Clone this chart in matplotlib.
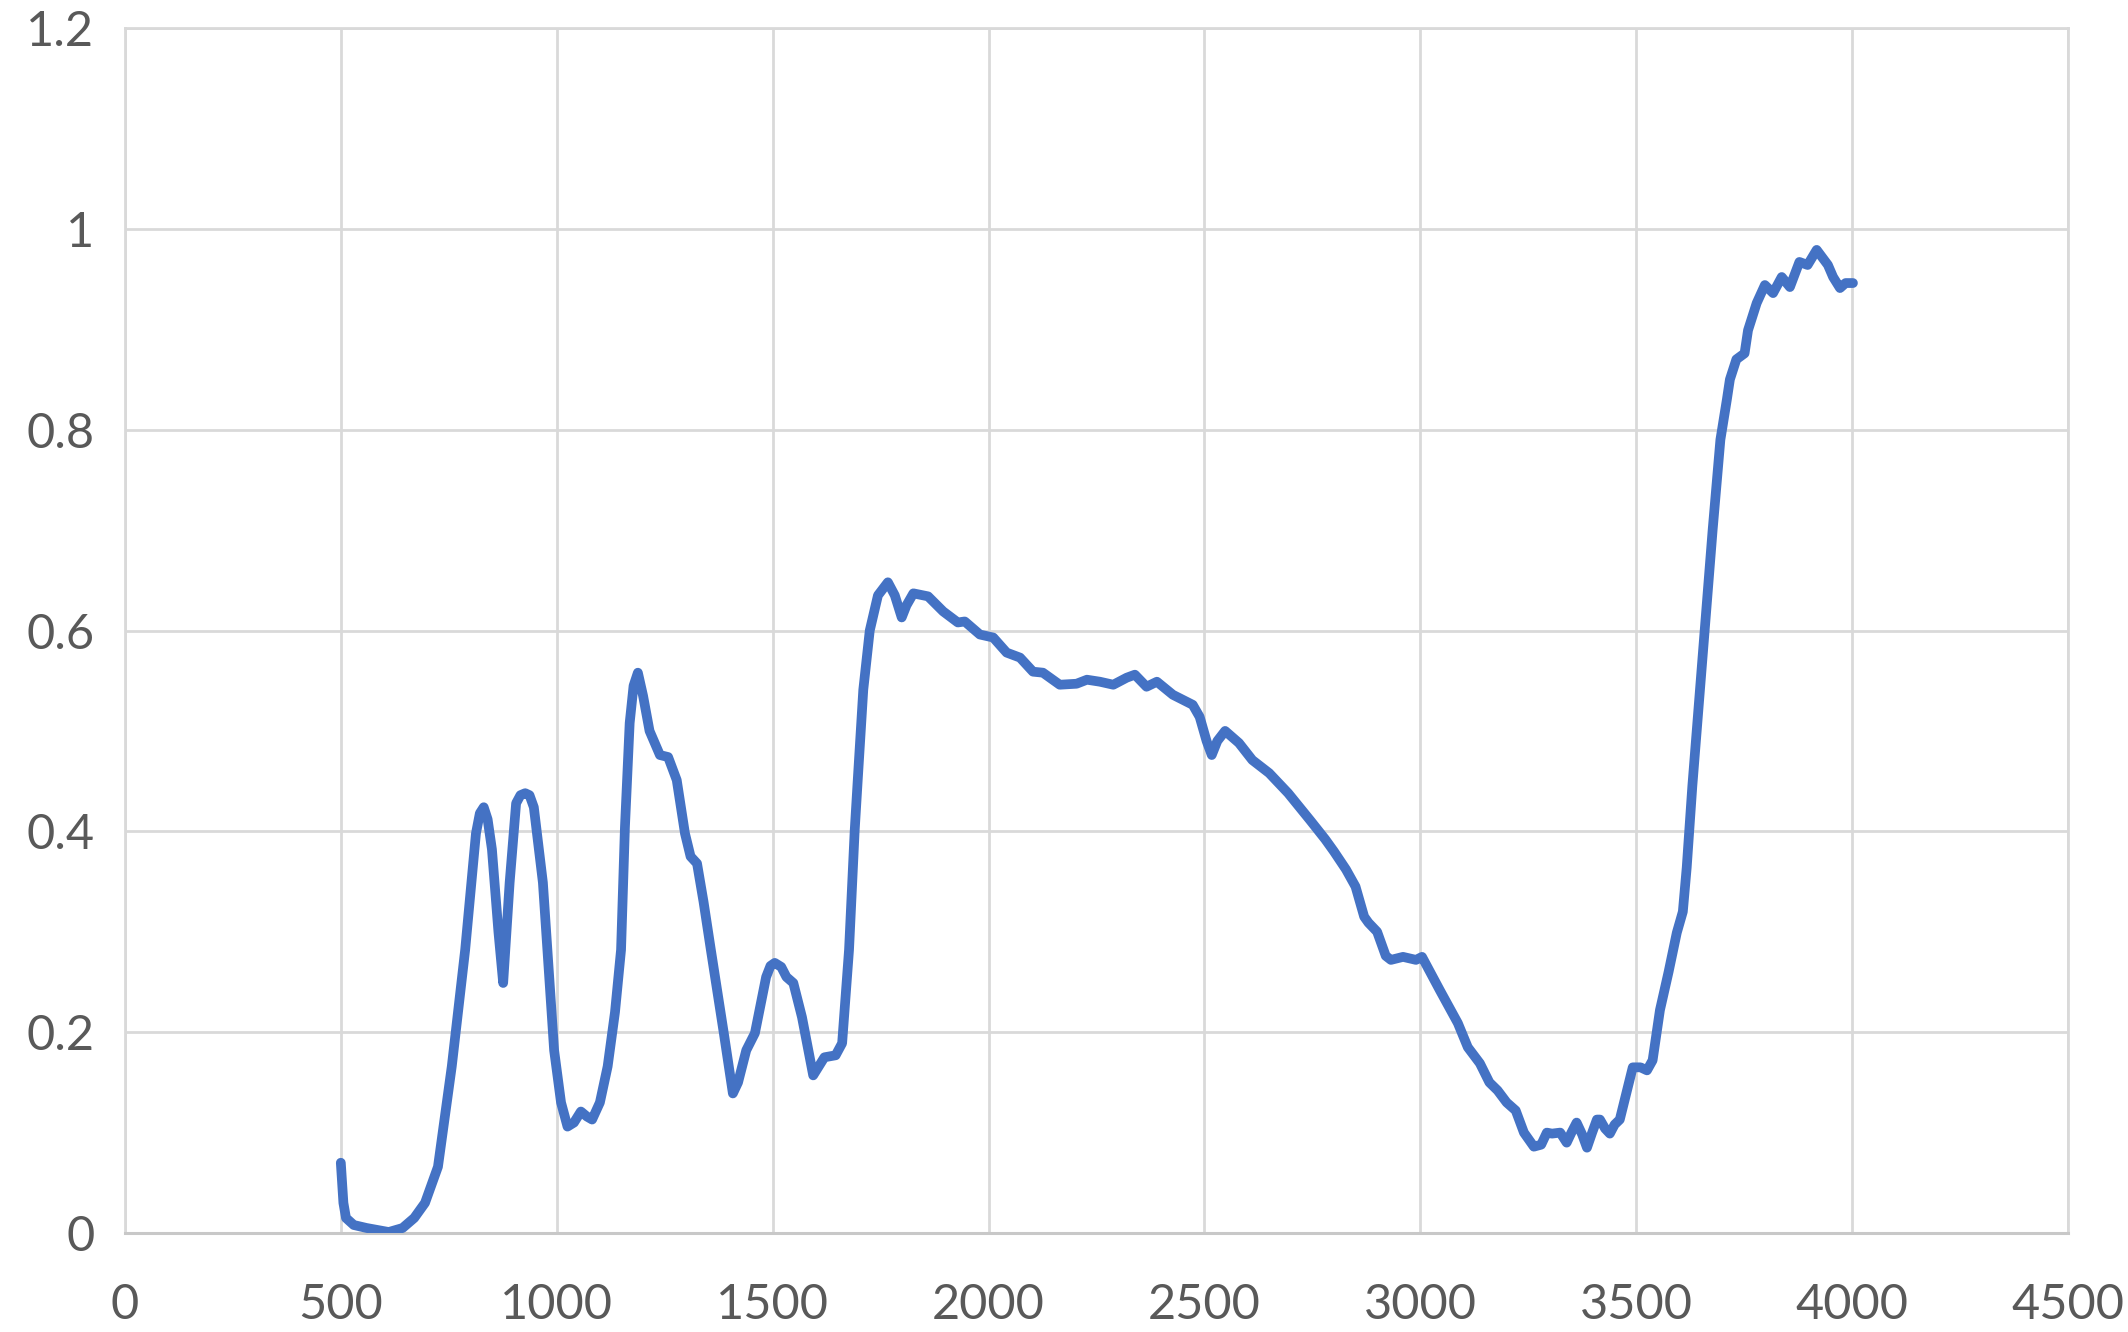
import matplotlib
matplotlib.use("Agg")
import matplotlib.pyplot as plt

# spectrum
wavelength = [500, 506, 512, 530, 560, 611, 643, 670, 695, 725, 757, 788, 813, 822, 831, 840,
              850, 865, 876, 891, 906, 916, 927, 937, 947, 968, 994, 1010, 1025, 1040, 1056,
              1070, 1082, 1100, 1118, 1135, 1149, 1158, 1169, 1178, 1188, 1200, 1215, 1239,
              1258, 1278, 1297, 1310, 1325, 1340, 1357, 1387, 1408, 1420, 1439, 1459, 1485,
              1495, 1505, 1520, 1532, 1548, 1568, 1594, 1610, 1620, 1646, 1661, 1677, 1690,
              1697, 1710, 1725, 1744, 1767, 1783, 1799, 1810, 1826, 1860, 1895, 1929, 1945,
              1980, 2011, 2042, 2073, 2103, 2126, 2165, 2204, 2228, 2258, 2289, 2320, 2339,
              2366, 2390, 2427, 2473, 2489, 2505, 2517, 2530, 2548, 2580, 2611, 2650, 2694,
              2745, 2780, 2800, 2828, 2850, 2870, 2880, 2900, 2920, 2932, 2960, 2990, 3004,
              3045, 3087, 3110, 3138, 3160, 3179, 3200, 3221, 3240, 3263, 3280, 3293, 3305,
              3324, 3339, 3350, 3362, 3375, 3386, 3398, 3409, 3416, 3428, 3439, 3450, 3462,
              3481, 3492, 3510, 3525, 3538, 3555, 3575, 3594, 3608, 3617, 3630, 3655, 3677,
              3695, 3710, 3717, 3732, 3751, 3759, 3779, 3798, 3817, 3837, 3856, 3878, 3897,
              3918, 3944, 3956, 3972, 3985, 4002]
reflectance = [0.070, 0.030, 0.015, 0.008, 0.005, 0.001, 0.005, 0.015, 0.030, 0.066, 0.166,
               0.282, 0.398, 0.418, 0.424, 0.412, 0.382, 0.300, 0.249, 0.349, 0.428, 0.436,
               0.438, 0.436, 0.424, 0.349, 0.182, 0.130, 0.106, 0.110, 0.121, 0.116, 0.113,
               0.130, 0.166, 0.220, 0.282, 0.404, 0.508, 0.545, 0.558, 0.535, 0.500, 0.476,
               0.474, 0.451, 0.398, 0.375, 0.368, 0.330, 0.282, 0.199, 0.139, 0.150, 0.182,
               0.199, 0.255, 0.266, 0.269, 0.265, 0.255, 0.249, 0.215, 0.157, 0.168, 0.175,
               0.177, 0.189, 0.282, 0.400, 0.450, 0.541, 0.600, 0.635, 0.648, 0.635, 0.613,
               0.625, 0.637, 0.634, 0.619, 0.608, 0.609, 0.596, 0.593, 0.578, 0.573, 0.559,
               0.558, 0.546, 0.547, 0.551, 0.549, 0.546, 0.553, 0.556, 0.544, 0.549, 0.536,
               0.526, 0.514, 0.490, 0.476, 0.490, 0.500, 0.488, 0.471, 0.458, 0.438, 0.411,
               0.392, 0.380, 0.362, 0.345, 0.315, 0.309, 0.300, 0.276, 0.272, 0.275, 0.272,
               0.275, 0.242, 0.209, 0.185, 0.169, 0.150, 0.142, 0.130, 0.122, 0.100, 0.086,
               0.088, 0.100, 0.099, 0.100, 0.090, 0.100, 0.110, 0.098, 0.085, 0.100, 0.113,
               0.113, 0.104, 0.099, 0.108, 0.113, 0.146, 0.165, 0.165, 0.162, 0.172, 0.222,
               0.260, 0.299, 0.320, 0.364, 0.445, 0.580, 0.700, 0.790, 0.830, 0.850, 0.870,
               0.876, 0.899, 0.926, 0.944, 0.936, 0.952, 0.942, 0.967, 0.964, 0.979, 0.964,
               0.952, 0.941, 0.946, 0.946]

x_ticks = [0, 500, 1000, 1500, 2000, 2500, 3000, 3500, 4000, 4500]
y_ticks = [0, 0.2, 0.4, 0.6, 0.8, 1.0, 1.2]
y_labels = ["0", "0.2", "0.4", "0.6", "0.8", "1", "1.2"]

plt.rcParams['font.family'] = ['Lato', 'DejaVu Sans']

fig = plt.figure(figsize=(21.28, 13.32), dpi=100)
ax = fig.add_axes([0.0587, 0.0743, 0.9131, 0.9047])

ax.plot(wavelength, reflectance, color="#4472C4", linewidth=7,
        solid_joinstyle="round", solid_capstyle="round", zorder=3)

ax.set_xlim(0, 4500)
ax.set_ylim(0, 1.2)
ax.set_xticks(x_ticks)
ax.set_yticks(y_ticks)
ax.set_yticklabels(y_labels)

ax.grid(True, color="#D9D9D9", linewidth=2)
ax.set_axisbelow(True)
for side in ["top", "right", "left"]:
    ax.spines[side].set_color("#D9D9D9")
    ax.spines[side].set_linewidth(2)
ax.spines["bottom"].set_color("#C8C8C8")
ax.spines["bottom"].set_linewidth(2.2)

ax.tick_params(axis="both", length=0, labelsize=35, labelcolor="#595959")
ax.tick_params(axis="y", pad=22)
ax.tick_params(axis="x", pad=36)

fig.savefig("out.png", dpi=100)
